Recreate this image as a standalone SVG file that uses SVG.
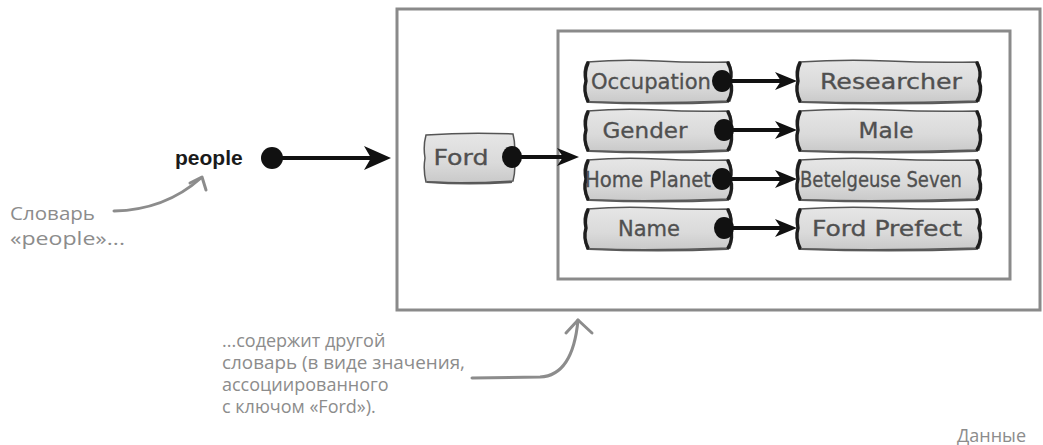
<svg xmlns="http://www.w3.org/2000/svg" xmlns:xlink="http://www.w3.org/1999/xlink" width="1043" height="445" viewBox="0 0 1043 445">
<style>
.box{fill:none;stroke:#8a8a8a;stroke-width:3}
.tile{fill:url(#tg);stroke:#555;stroke-width:1.5}
.edge{fill:none;stroke:#1e1e1e;stroke-width:3.4;stroke-linecap:round}
.shade{fill:none;stroke:#5a5a5a;stroke-width:2.2}
.tt{font-family:"DejaVu Sans Condensed","DejaVu Sans",sans-serif;font-size:22px;fill:#505050;stroke:#505050;stroke-width:0.3;text-anchor:middle}
.conn{stroke:#111;stroke-width:4;fill:none}
.dot{fill:#111}
.head{fill:#111}
.note{font-family:"Open Sans","Noto Sans",sans-serif;font-size:18px;fill:#8c8c8c}
.nline{fill:none;stroke:#8c8c8c;stroke-width:3;stroke-linecap:round;stroke-linejoin:round}
.lbl{font-family:"Liberation Sans",Arial,sans-serif;font-weight:bold;font-size:21px;fill:#1a1a1a}
</style>
<defs>
<linearGradient id="tg" x1="0" y1="0" x2="0" y2="1">
<stop offset="0" stop-color="#e6e6e6"/>
<stop offset="0.6" stop-color="#dadada"/>
<stop offset="1" stop-color="#c9c9c9"/>
</linearGradient>
<g id="shapeL">
<path class="tile" d="M4,3 Q40,0 75,2 T146,3 Q150,12 147,22 Q151,32 147,42 Q75,45 4,43 Q0,32 3,22 Q-1,12 4,3 Z"/>
<path class="edge" d="M5,4 Q1,13 3,22 Q0,32 5,42"/>
<path class="edge" d="M145,4 Q150,13 147,22 Q151,32 145,42"/>
<path class="shade" d="M6,43 Q75,46 144,43"/>
</g>
<g id="shapeR">
<path class="tile" d="M4,3 Q50,0 93,2 T183,3 Q187,12 184,22 Q188,32 184,42 Q93,45 4,43 Q0,32 3,22 Q-1,12 4,3 Z"/>
<path class="edge" d="M5,4 Q1,13 3,22 Q0,32 5,42"/>
<path class="edge" d="M182,4 Q187,13 184,22 Q188,32 182,42"/>
<path class="shade" d="M6,43 Q93,46 181,43"/>
</g>
<g id="shapeF">
<path class="tile" d="M3,3 Q46,0 90,2 Q93,14 91,26 Q93,38 90,49 Q46,52 3,50 Q0,38 2,26 Q0,14 3,3 Z"/>
<path class="shade" d="M4,50 Q46,53 89,50"/>
</g>
</defs>
<rect width="1043" height="445" fill="#fff"/>

<g id="outer-box"><rect class="box" x="397" y="9" width="643" height="301"/></g>
<g id="inner-box"><rect class="box" x="558" y="31" width="452" height="248"/></g>

<g id="people"><text class="lbl" x="175" y="165">people</text></g>

<g id="ford"><use xlink:href="#shapeF" transform="translate(423,132)"/><text class="tt" x="461" y="165" textLength="55" lengthAdjust="spacingAndGlyphs">Ford</text></g>

<g id="k-occupation"><use xlink:href="#shapeL" transform="translate(583,59)"/><text class="tt" x="651" y="89" textLength="120" lengthAdjust="spacingAndGlyphs">Occupation</text></g>
<g id="k-gender"><use xlink:href="#shapeL" transform="translate(583,108)"/><text class="tt" x="645" y="138" textLength="85" lengthAdjust="spacingAndGlyphs">Gender</text></g>
<g id="k-homeplanet"><use xlink:href="#shapeL" transform="translate(583,157)"/><text class="tt" x="648" y="187" textLength="126" lengthAdjust="spacingAndGlyphs">Home Planet</text></g>
<g id="k-name"><use xlink:href="#shapeL" transform="translate(583,206)"/><text class="tt" x="649" y="236" textLength="62" lengthAdjust="spacingAndGlyphs">Name</text></g>

<g id="v-researcher"><use xlink:href="#shapeR" transform="translate(795,59)"/><text class="tt" x="891" y="89" textLength="142" lengthAdjust="spacingAndGlyphs">Researcher</text></g>
<g id="v-male"><use xlink:href="#shapeR" transform="translate(795,108)"/><text class="tt" x="886" y="138" textLength="55" lengthAdjust="spacingAndGlyphs">Male</text></g>
<g id="v-betelgeuse"><use xlink:href="#shapeR" transform="translate(795,157)"/><text class="tt" x="881" y="187" textLength="162" lengthAdjust="spacingAndGlyphs">Betelgeuse Seven</text></g>
<g id="v-fordprefect"><use xlink:href="#shapeR" transform="translate(795,206)"/><text class="tt" x="887" y="236" textLength="150" lengthAdjust="spacingAndGlyphs">Ford Prefect</text></g>

<g id="connectors">
<circle class="dot" cx="272" cy="158" r="11"/>
<line class="conn" x1="272" y1="158" x2="375" y2="158"/>
<path class="head" d="M391,158 L364,146 L371,158 L364,170 Z"/>

<ellipse class="dot" cx="512" cy="157" rx="10" ry="11"/>
<line class="conn" x1="512" y1="157" x2="565" y2="157"/>
<path class="head" d="M579,157 L557,148 L563,157 L557,166 Z"/>

<ellipse class="dot" cx="722" cy="81" rx="10" ry="11"/>
<line class="conn" x1="722" y1="81" x2="782" y2="81"/>
<path class="head" d="M797,81 L775,72 L781,81 L775,90 Z"/>

<ellipse class="dot" cx="724" cy="130" rx="10" ry="11"/>
<line class="conn" x1="724" y1="130" x2="782" y2="130"/>
<path class="head" d="M797,130 L775,121 L781,130 L775,139 Z"/>

<ellipse class="dot" cx="722" cy="179" rx="10" ry="11"/>
<line class="conn" x1="722" y1="179" x2="782" y2="179"/>
<path class="head" d="M797,179 L775,170 L781,179 L775,188 Z"/>

<ellipse class="dot" cx="724" cy="228" rx="10" ry="11"/>
<line class="conn" x1="724" y1="228" x2="782" y2="228"/>
<path class="head" d="M797,228 L775,219 L781,228 L775,237 Z"/>
</g>

<g id="note-people">
<text class="note" x="10" y="220" textLength="85" lengthAdjust="spacingAndGlyphs">Словарь</text>
<text class="note" x="10" y="245" textLength="115" lengthAdjust="spacingAndGlyphs">«people»...</text>
<path class="nline" d="M114,211 Q165,210 201,178"/>
<path class="nline" d="M190,183 L202,177 L206,190"/>
</g>

<g id="note-ford">
<text class="note" x="222" y="347">...содержит другой</text>
<text class="note" x="222" y="369" textLength="243" lengthAdjust="spacingAndGlyphs">словарь (в виде значения,</text>
<text class="note" x="222" y="391">ассоциированного</text>
<text class="note" x="222" y="413">с ключом «Ford»).</text>
<path class="nline" d="M472,378 L540,377 C565,376 575,352 578,320"/>
<path class="nline" d="M566,333 L578,320 L592,333"/>
</g>

<g id="note-data"><text class="note" x="957" y="442" font-size="16">Данные</text></g>
</svg>
